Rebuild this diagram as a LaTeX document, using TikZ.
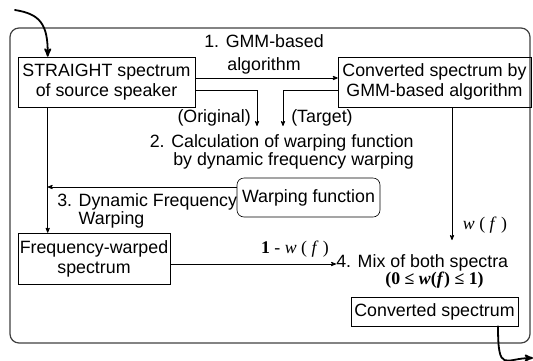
\documentclass[tikz,border=0pt]{standalone}
\usepackage{fontspec}
\setmainfont{Liberation Sans}
\newfontfamily\serifm{Liberation Serif}
\usetikzlibrary{arrows,positioning,calc}

\begin{document}
\begin{tikzpicture}[x=1pt,y=-1pt,>=stealth',semithick,font=\fontsize{17.8}{20}\selectfont]
 \tikzstyle{spec node}=[rectangle,draw,inner sep=0pt,align=center]
 \tikzstyle{func node}=[rectangle,rounded corners=7pt,draw,inner sep=0pt,align=center]
 \tikzstyle{step node}=[inner sep=0pt]
 \tikzset{
 	flow/.style={->,line width=0.8pt},
 	io/.style={->,line width=1.8pt,line cap=round}
 }
       \useasboundingbox (0,0) rectangle (533,360);
       \draw[black!75,line width=1.2pt,rounded corners=9pt] (10,28) rectangle (530,343);

       \node[spec node,minimum width=177pt,minimum height=50pt] (src) at (106.5,82) {STRAIGHT spectrum\\of source speaker};
       \node[spec node,minimum width=193pt,minimum height=50pt] (gmm) at (434.5,82) {Converted spectrum by\\GMM-based algorithm};
       \node[func node,minimum width=143pt,minimum height=39pt] (warp) at (308.5,197.5) {Warping function};
       \node[spec node,minimum width=152pt,minimum height=51pt] (fw) at (94,258.5) {Frequency-warped\\spectrum};
       \node[spec node,minimum width=167pt,minimum height=29pt] (conv) at (434.5,311.5) {Converted spectrum};

       \node[step node,align=center] (s1) at (264,54.5) {1. GMM-based\\[3pt]algorithm};
       \node[step node,align=right,anchor=north east,inner ysep=0pt] (s2) at (414,126) {\rule{0pt}{21pt}2. Calculation of warping function\\[-2pt]by dynamic frequency warping};
       \node[step node,anchor=east] (orig) at (251,118) {(Original)};
       \node[step node,anchor=west] (targ) at (291,118) {(Target)};
       \node[step node,align=left,anchor=north west] (s3) at (57,193) {3. Dynamic Frequency\\[-2pt]\phantom{3. }Warping};
       \node[step node,anchor=base west] (s4) at (336,267) {4. Mix of both spectra};
       \node[step node,anchor=base] (cond) at (434.5,284) {\serifm\bfseries (0 ≤ \textit{w}(\textit{f}) ≤ 1)};
       \node[step node] (wf) at (485,225) {\serifm\textit{w} ( \textit{f} )};
       \node[step node] (owf) at (295,249) {\serifm\textbf{1} - \textit{w} ( \textit{f} )};

       \coordinate (inStart) at (15,10);
       \coordinate (outEnd) at (533,358);
       \coordinate (trunk) at ([xshift=30pt]src.south west);

     % input and output
     \draw[io] (inStart) .. controls (40,14) and (48,24) .. ([xshift=30pt]src.north west);
     \draw[io] ([xshift=63.5pt]conv.south) .. controls ([xshift=63.5pt,yshift=-48pt]conv.south) and (505,358) .. (outEnd);

     % 1. GMM
     \draw[flow] ([yshift=4pt]src.east) -- ([yshift=4pt]gmm.west);
     % 2. DFW
     \draw[flow] ([yshift=-8pt]src.east) -| ([xshift=-34pt]s2.north -| targ.west);
     \draw[flow] ([yshift=-8pt]gmm.west) -| ([xshift=-8pt]s2.north -| targ.west);
     % 3. warping
     \draw[flow] (trunk) -- (trunk |- fw.north);
     \draw[flow] ([yshift=10.5pt]warp.west) coordinate (wl) -- (wl -| trunk);
     % 4. mix
     \draw[flow] ([xshift=17.5pt]gmm.south) coordinate (gs) -- (gs |- 0,240);
     \draw[flow] ([yshift=-5.5pt]fw.east) coordinate (fe) -- (fe -| s4.west);
 \end{tikzpicture}
\end{document}
